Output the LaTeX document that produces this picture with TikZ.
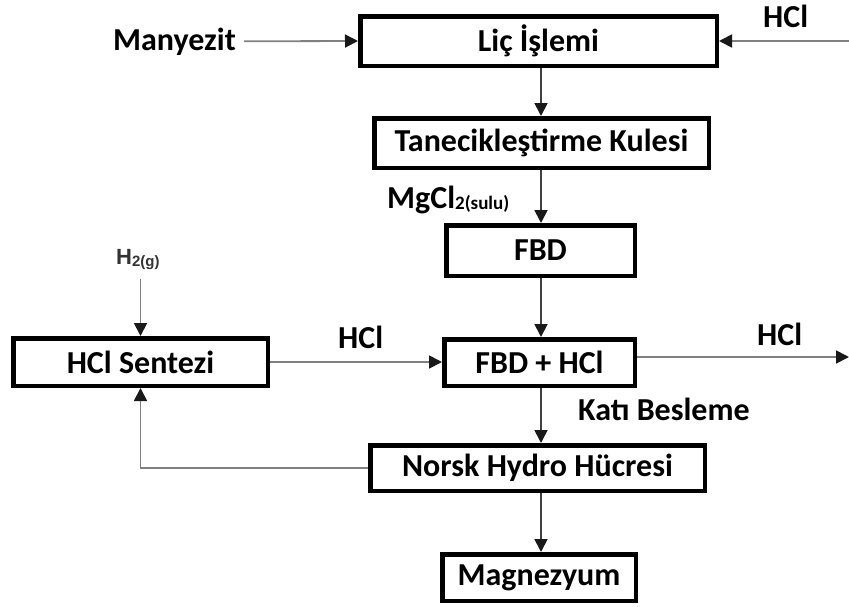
\documentclass[tikz,border=0pt]{standalone}
\usepackage{fontspec}
\setmainfont{Carlito}
\newfontfamily\gasfont{Liberation Sans}
\usetikzlibrary{arrows.meta}
\begin{document}
\begin{tikzpicture}[x=1pt,y=-1pt,
  txt/.style={font=\bfseries\fontsize{32}{34}\selectfont},
  stagebox/.style={draw, line width=4.5pt, inner sep=0pt, txt},
  lbl/.style={inner sep=0pt, anchor=base west, txt},
  tip/.style={-{Triangle[length=13pt,width=13pt,color=black!90]}},
  feed/.style={line width=1.8pt, draw=black!50, tip},
  mainflow/.style={line width=1.8pt, draw=black!75, tip}
]
\useasboundingbox (0,0) rectangle (849,606);

% process stages
\node[stagebox, minimum width=356.5pt, minimum height=49.5pt] (lic)   at (538.5,41)  {Liç İşlemi};
\node[stagebox, minimum width=334.5pt, minimum height=49.5pt] (tan)   at (541.5,143) {Tanecikleştirme Kulesi};
\node[stagebox, minimum width=188.5pt, minimum height=50.5pt] (fbd)   at (540.5,250.5) {FBD};
\node[stagebox, minimum width=254.5pt, minimum height=47.5pt] (hcls)  at (140.5,362) {HCl Sentezi};
\node[stagebox, minimum width=190.5pt, minimum height=46.5pt] (fbdh)  at (539.5,362.5) {FBD + HCl};
\node[stagebox, minimum width=334.5pt, minimum height=45.5pt] (norsk) at (537.5,468) {Norsk Hydro Hücresi};
\node[stagebox, minimum width=193.5pt, minimum height=46.5pt] (mag)   at (539,577.5) {Magnezyum};

% stream labels
\node[lbl] (many)   at (113,50)  {Manyezit};
\node[lbl] (hcltop) at (763,27)  {HCl};
\node[lbl] (mgcl)   at (387,208) {MgCl\raisebox{-1pt}{\fontsize{19}{20}\selectfont 2(sulu)}};
\node[lbl, font=\gasfont\bfseries\fontsize{22}{24}\selectfont, text=black!80] (h2) at (116,264)
  {H\raisebox{-2pt}{\fontsize{15}{16}\selectfont 2(g)}};
\node[lbl] (hclmid) at (338,348) {HCl};
\node[lbl] (hclout) at (757,345) {HCl};
\node[lbl] (kati)   at (578,420) {Katı Besleme};

% free ends of the open streams
\coordinate (hclin)  at (849,41);
\coordinate (hclend) at (849,357);
\coordinate (col)    at (541,0);

% main line
\draw[mainflow] (lic.south -| col) -- (tan.north -| col);
\draw[mainflow] (tan.south -| col) -- (fbd.north -| col);
\draw[mainflow] (fbd.south -| col) -- (fbdh.north -| col);
\draw[mainflow] (fbdh.south -| col) -- (norsk.north -| col);
\draw[mainflow] (norsk.south -| col) -- (mag.north -| col);

% side streams
\draw[feed] ([xshift=8pt]many.east) -- (lic.west);
\draw[feed] (hclin) -- (lic.east);
\draw[feed] ([yshift=-10pt]h2.south -| hcls.north) -- (hcls.north);
\draw[feed] (hcls.east) -- (hcls.east -| fbdh.west);
\draw[feed] (fbdh.east |- hclend) -- (hclend);
\draw[feed] (norsk.west) -| (hcls.south);
\end{tikzpicture}
\end{document}
